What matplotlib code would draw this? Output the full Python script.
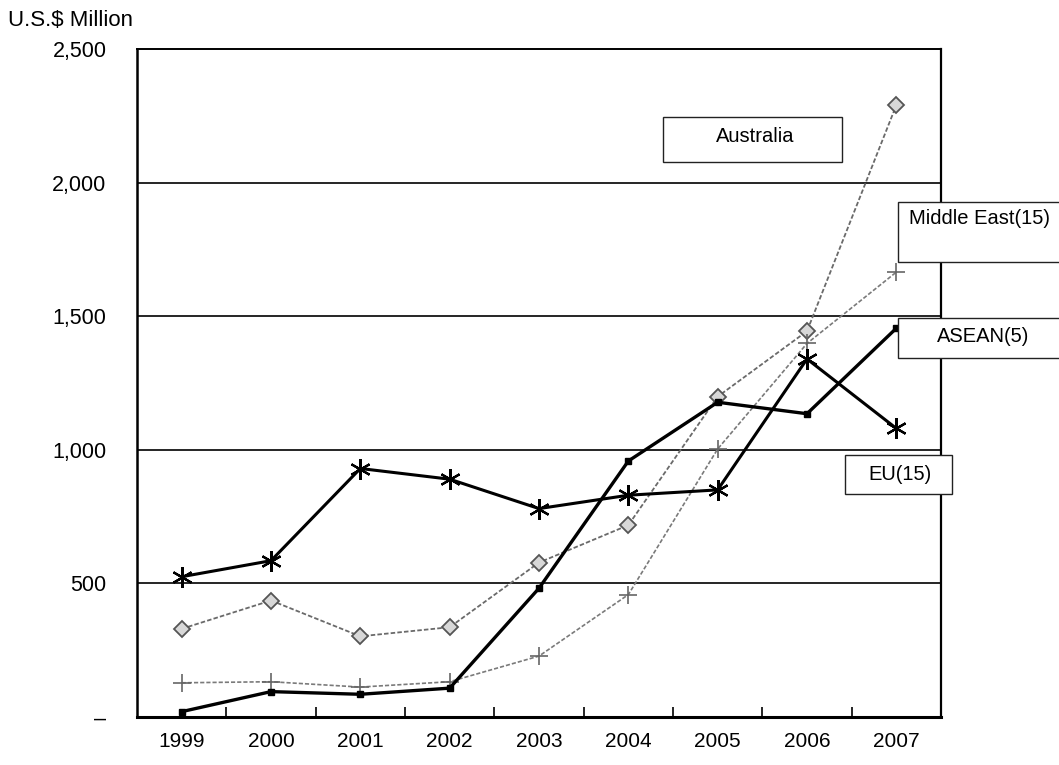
import matplotlib
matplotlib.use("Agg")
import matplotlib.pyplot as plt
from matplotlib.patches import Rectangle
from matplotlib.ticker import FixedLocator, FuncFormatter

plt.rcParams['font.family'] = ['Liberation Sans', 'DejaVu Sans']

years = ['1999', '2000', '2001', '2002', '2003', '2004', '2005', '2006', '2007']
eu15 = [525, 585, 930, 890, 780, 830, 850, 1340, 1080]
australia = [330, 436, 302, 336, 578, 718, 1199, 1444, 2290]
asean5 = [20, 95, 85, 108, 482, 958, 1178, 1135, 1455]
middle_east15 = [128, 132, 112, 132, 228, 458, 1003, 1398, 1665]

W, H = 1059, 765
fig = plt.figure(figsize=(W / 100, H / 100), dpi=100)
ax = fig.add_axes([137 / W, (H - 717) / H, (941 - 137) / W, (717 - 49) / H])

x = list(range(len(years)))

# grey dotted series drawn first, black series on top
ax.plot(x, australia, color='#6a6a6a', lw=1.3, ls=(0, (2.5, 1.2)),
        marker='D', ms=8, mfc='#d8d8d8', mec='#555555', mew=1.3, zorder=3)
ax.plot(x, middle_east15, color='#7a7a7a', lw=1.2, ls=(0, (2.5, 1.2)),
        marker='+', ms=13, mec='#666666', mew=1.2, zorder=3)
ax.plot(x, eu15, color='black', lw=2.2, marker=(6, 2, 0), ms=15, mew=1.6,
        mec='black', zorder=4)
ax.plot(x, asean5, color='black', lw=2.4, marker='s', ms=5, mfc='black',
        mec='black', zorder=4)

ax.set_xlim(-0.5, 8.5)
ax.set_ylim(0, 2500)

# horizontal rules
for v in [500, 1000, 1500, 2000]:
    ax.axhline(v, color='black', lw=1.2, zorder=1)

ax.yaxis.set_major_locator(FixedLocator([0, 500, 1000, 1500, 2000, 2500]))
ax.yaxis.set_major_formatter(FuncFormatter(lambda v, p: '–' if v == 0 else f'{int(v):,}'))
ax.tick_params(axis='y', length=0, pad=22, labelsize=15.5)

ax.set_xticks(x)
ax.set_xticklabels(years)
ax.set_xticks([i + 0.5 for i in range(len(years) - 1)], minor=True)
ax.tick_params(axis='x', which='major', length=0, pad=11, labelsize=15)
ax.tick_params(axis='x', which='minor', direction='in', length=7, width=1.2)

for side, lw in [('left', 1.8), ('bottom', 2.2), ('top', 1.4), ('right', 1.6)]:
    ax.spines[side].set_linewidth(lw)
    ax.spines[side].set_color('black')

fig.text(8 / W, 1 - 20 / H, 'U.S.$ Million', fontsize=16, ha='left', va='center')

# series name boxes, in pixel coordinates of the figure
def label_box(x0, y0, x1, y1, text, tx, ty, ha='center'):
    rect = Rectangle((x0 / W, 1 - y1 / H), (x1 - x0) / W, (y1 - y0) / H,
                     transform=fig.transFigure, facecolor='white',
                     edgecolor='#222222', lw=1.0, clip_on=False, zorder=5)
    fig.add_artist(rect)
    fig.text(tx / W, 1 - ty / H, text, fontsize=14.5, ha=ha, va='center', zorder=6)

label_box(663, 117, 842, 162, 'Australia', 755, 136)
label_box(898, 202, 1075, 262, 'Middle East(15)', 909, 219, ha='left')
label_box(898, 318, 1075, 358, 'ASEAN(5)', 983, 336)
label_box(845, 455, 952, 494, 'EU(15)', 900, 474)

fig.savefig('out.png', dpi=100)
